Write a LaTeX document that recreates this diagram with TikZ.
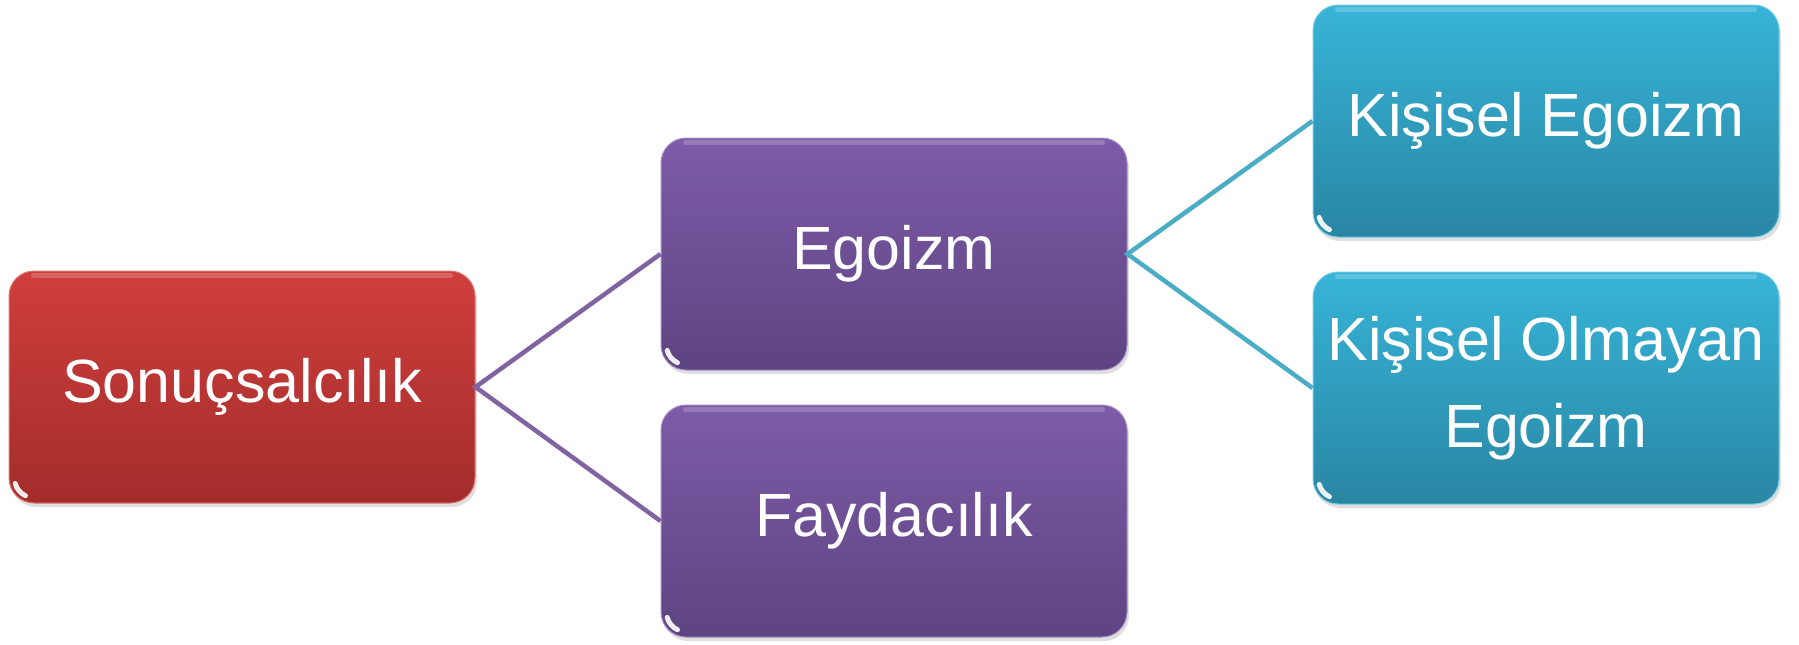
\documentclass[tikz,border=0pt]{standalone}
\usepackage{fontspec}
\setmainfont{Liberation Sans}
\usetikzlibrary{shadows}
\definecolor{redtop}{HTML}{CF3E3C}
\definecolor{redbot}{HTML}{A32D2B}
\definecolor{purtop}{HTML}{7E5BA8}
\definecolor{purbot}{HTML}{5E4482}
\definecolor{teatop}{HTML}{37B4D8}
\definecolor{teabot}{HTML}{2986A3}
\definecolor{purline}{HTML}{8064A2}
\definecolor{tealine}{HTML}{4BACC6}
\tikzset{
  box/.style={rounded corners=25pt, minimum width=466pt, minimum height=232pt,
    text=white, align=center, font=\fontsize{61}{87}\selectfont, inner sep=0pt,
    drop shadow={opacity=0.25, shadow xshift=2pt, shadow yshift=-4pt}},
  redbox/.style={box, top color=redtop, bottom color=redbot, draw=redtop!70!white, line width=1pt},
  purbox/.style={box, top color=purtop, bottom color=purbot, draw=purtop!70!white, line width=1pt},
  teabox/.style={box, top color=teatop, bottom color=teabot, draw=teatop!70!white, line width=1pt},
  conn/.style={line width=4.5pt},
  glint/.style={white, line width=5pt, opacity=0.9, line cap=round}
}
\begin{document}
\begin{tikzpicture}[x=1pt,y=-1pt]
\useasboundingbox (0,0) rectangle (1799,645);
\node[redbox] (s) at (242,387) {Sonuçsalcılık};
\node[purbox] (e) at (894,254) {Egoizm};
\node[purbox] (f) at (894,521) {Faydacılık};
\node[teabox] (k) at (1546,121) {Kişisel Egoizm};
\node[teabox] (o) at (1546,388) {Kişisel Olmayan\\Egoizm};
\draw[conn, purline] (e.west) -- (s.east) -- (f.west);
\draw[conn, tealine] (k.west) -- (e.east) -- (o.west);
\foreach \n in {s,e,f,k,o}{
  \draw[glint] ([shift={(25pt,25pt)}]\n.south west) ++(195:19pt) arc[start angle=195, end angle=245, radius=19pt];
  \draw[white, opacity=0.2, line width=5pt, line cap=round] ([xshift=25pt,yshift=-5pt]\n.north west) -- ([xshift=-25pt,yshift=-5pt]\n.north east);
}
\end{tikzpicture}
\end{document}
